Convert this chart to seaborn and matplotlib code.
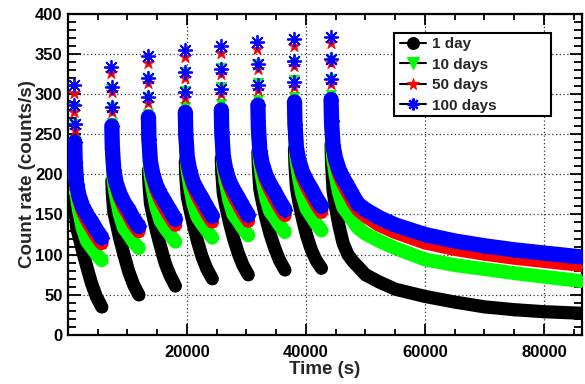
import matplotlib
matplotlib.use("Agg")
import matplotlib.pyplot as plt
import pandas as pd
import seaborn as sns
from matplotlib.lines import Line2D
from matplotlib.patches import Rectangle
from matplotlib.ticker import MultipleLocator

# Start time of each irradiation pulse (s) and sample offsets after each start (s)
pulse_start = [1060, 7300, 13450, 19650, 25700, 31850, 38000, 44150]
offsets = [0, 20, 40, 70, 150, 400, 800, 1400, 2100, 2900, 3700, 4600]
# Times of the long decay after the last pulse (s)
tail_time = [50000, 52300, 55000, 60000, 65000, 70000, 75000, 80000, 86400]

# Count rates (counts/s), one list per pulse
rate_1day = [
    [222, 200, 185, 170, 155, 133, 122, 104, 85, 64, 48, 35],
    [247, 224, 208, 192, 176, 153, 140, 120, 100, 79, 63, 50],
    [261, 238, 222, 205, 189, 164, 150, 130, 110, 89, 74, 61],
    [272, 248, 232, 216, 198, 172, 158, 138, 117, 97, 82, 70],
    [276, 252, 236, 220, 202, 176, 161, 141, 121, 102, 87, 75],
    [284, 260, 244, 228, 208, 181, 166, 146, 126, 108, 93, 81],
    [290, 266, 249, 232, 212, 183, 166, 145, 124, 106, 93, 83],
    [296, 271, 254, 237, 214, 180, 160, 136, 114, 100, 92, 85],
]
tail_1day = [75, 66, 57, 48, 41, 35, 31.5, 29, 27]

rate_10days = [
    [283, 262, 243, 225, 202, 172, 154, 133, 117, 109, 101, 93],
    [306, 284, 264, 246, 222, 190, 172, 150, 133, 125, 116, 108],
    [318, 296, 275, 256, 232, 200, 181, 159, 142, 133, 125, 116],
    [327, 304, 284, 264, 239, 207, 187, 164, 147, 138, 130, 121],
    [332, 309, 288, 269, 243, 211, 191, 168, 150, 142, 133, 124],
    [337, 314, 293, 273, 248, 215, 195, 172, 154, 146, 137, 128],
    [340, 317, 296, 276, 250, 217, 197, 174, 157, 148, 139, 130],
    [342, 319, 298, 278, 253, 220, 200, 177, 159, 151, 142, 133],
]
tail_10days = [126, 117, 108, 94, 87, 82, 77, 72.5, 67]

rate_50days = [
    [301, 278, 255, 234, 208, 183, 168, 154, 143, 133, 123, 114],
    [326, 302, 277, 255, 228, 201, 186, 171, 159, 149, 138, 129],
    [338, 313, 289, 266, 238, 211, 195, 180, 168, 157, 147, 137],
    [346, 320, 295, 272, 244, 216, 200, 185, 173, 162, 151, 141],
    [351, 325, 300, 276, 247, 219, 202, 187, 174, 163, 152, 142],
    [356, 331, 305, 282, 253, 225, 209, 193, 181, 170, 159, 149],
    [360, 335, 309, 286, 257, 229, 213, 197, 185, 174, 163, 153],
    [363, 338, 312, 289, 260, 232, 216, 200, 188, 177, 166, 156],
]
tail_50days = [148, 137, 128, 115, 107, 101, 96, 92, 87]

rate_100days = [
    [311, 286, 263, 240, 215, 188, 173, 160, 150, 141, 131, 121],
    [334, 308, 284, 260, 233, 205, 189, 176, 165, 156, 145, 135],
    [347, 320, 296, 271, 244, 216, 200, 186, 175, 165, 155, 144],
    [355, 327, 302, 277, 250, 221, 205, 190, 180, 170, 159, 148],
    [359, 331, 306, 280, 253, 223, 206, 192, 181, 171, 160, 149],
    [364, 337, 311, 286, 259, 229, 213, 199, 188, 178, 167, 156],
    [368, 341, 315, 290, 263, 233, 217, 203, 192, 182, 171, 160],
    [371, 344, 318, 293, 266, 236, 220, 206, 195, 185, 174, 163],
]
tail_100days = [156, 146, 137, 125, 117, 111, 106, 102, 97]

labels = ["1 day", "10 days", "50 days", "100 days"]
colors = ["#000000", "#00ff00", "#ff0000", "#0000ff"]


def series_frame(pulses, tail, label):
    rows = []
    for k, (t0, vals) in enumerate(zip(pulse_start, pulses)):
        for i, (dt, v) in enumerate(zip(offsets, vals)):
            rows.append((t0 + dt, v, k, i))
    last = len(pulses) - 1
    for j, (t, v) in enumerate(zip(tail_time, tail)):
        rows.append((t, v, last, len(offsets) + j))
    df = pd.DataFrame(rows, columns=["time", "rate", "pulse", "sample"])
    df["irradiation"] = label
    return df


frames = [
    series_frame(rate_1day, tail_1day, labels[0]),
    series_frame(rate_10days, tail_10days, labels[1]),
    series_frame(rate_50days, tail_50days, labels[2]),
    series_frame(rate_100days, tail_100days, labels[3]),
]

sns.set_style("ticks")
plt.rcParams["font.family"] = ["Liberation Sans", "DejaVu Sans"]
plt.rcParams["font.weight"] = "bold"
plt.rcParams["axes.labelweight"] = "bold"

fig = plt.figure(figsize=(5.85, 3.84), dpi=100)
ax = fig.add_axes([68 / 585, 1 - 335 / 384, (582 - 68) / 585, (335 - 13.5) / 384])

styles = [
    dict(marker="o", s=60, lw=9.5, mlw=0.5),
    dict(marker="v", s=55, lw=10.0, mlw=0.5),
    dict(marker="*", s=85, lw=10.0, mlw=0.5),
    dict(marker=(8, 2, 0), s=95, lw=11.0, mlw=1.3),
]

for z, (df, color, st) in enumerate(zip(frames, colors, styles)):
    dense = df[df["sample"] >= 3]
    sns.lineplot(data=dense, x="time", y="rate", units="pulse", estimator=None,
                 sort=False, color=color, lw=st["lw"], solid_capstyle="round",
                 solid_joinstyle="round", ax=ax, legend=False, zorder=3 + 2 * z)
    sns.scatterplot(data=df, x="time", y="rate", marker=st["marker"], s=st["s"],
                    color=color, edgecolor=color, linewidth=st["mlw"], ax=ax,
                    legend=False, zorder=3.5 + 2 * z)

ax.set_xlim(0, 86400)
ax.set_ylim(0, 400)
ax.set_xticks([20000, 40000, 60000, 80000])
ax.xaxis.set_minor_locator(MultipleLocator(5000))
ax.yaxis.set_major_locator(MultipleLocator(50))
ax.yaxis.set_minor_locator(MultipleLocator(10))
ax.tick_params(which="both", direction="in", top=True, right=True,
               colors="black", width=1.3, labelsize=12)
ax.tick_params(axis="y", which="major", length=9, pad=4)
ax.tick_params(axis="y", which="minor", length=5.5)
ax.tick_params(axis="x", which="major", length=8, pad=7)
ax.tick_params(axis="x", which="minor", length=4)
for sp in ax.spines.values():
    sp.set_linewidth(1.6)
    sp.set_color("black")
ax.grid(which="major", color="#333333", linestyle=(0, (1, 2)), linewidth=0.9)
ax.set_axisbelow(True)

ax.set_xlabel("Time (s)", fontsize=13.5, fontweight="bold")
ax.set_ylabel("Count rate (counts/s)", fontsize=13.5, fontweight="bold")
ax.xaxis.set_label_coords(0.5, -0.108)
ax.xaxis.label.set_va("center")
ax.yaxis.set_label_coords(-0.078, 0.5)
ax.yaxis.label.set_va("center")

# Legend frame of fixed size, entries placed inside it
box = Rectangle((0.6345, 0.682), 0.9396 - 0.6345, 0.9384 - 0.682,
                transform=ax.transAxes, facecolor="white", edgecolor="black",
                linewidth=1.5, zorder=19)
ax.add_patch(box)
handles = [
    Line2D([], [], color="black", lw=1.5, marker=st["marker"], markersize=8.5,
           markerfacecolor=c, markeredgecolor=c, markeredgewidth=st["mlw"] + 0.3)
    for c, st in zip(colors, styles)
]
leg = ax.legend(handles, labels, loc="upper left", bbox_to_anchor=(0.645, 0.926),
                frameon=False, fontsize=11, handlelength=1.75, handletextpad=0.4,
                borderpad=0, labelspacing=0.42, borderaxespad=0)
leg.set_zorder(20)

fig.savefig("out.png", dpi=100)
